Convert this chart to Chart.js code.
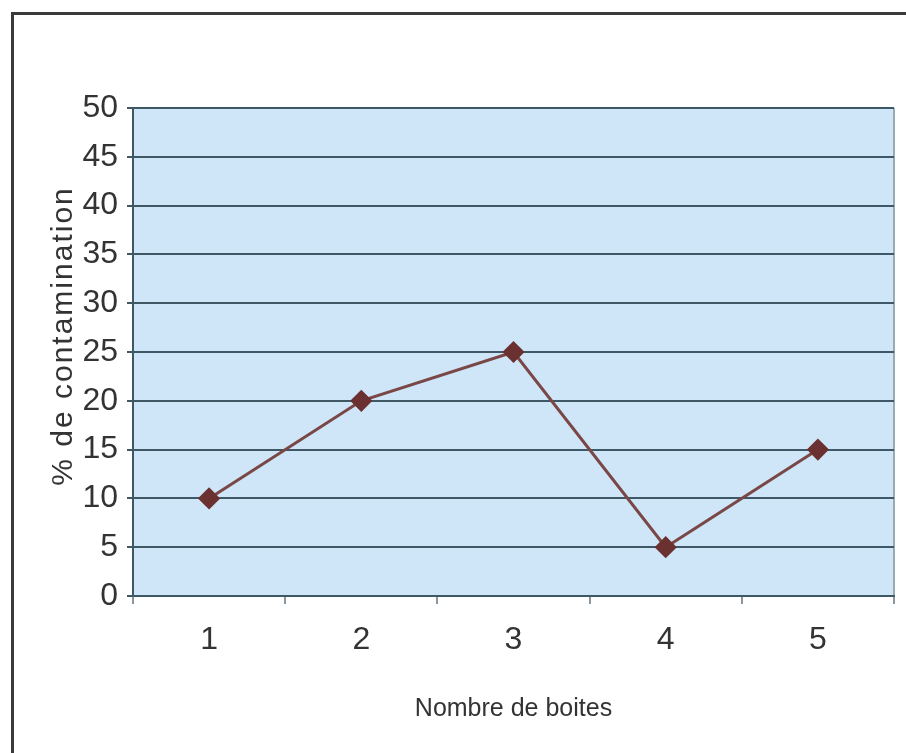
<!DOCTYPE html>
<html>
<head>
<meta charset="utf-8">
<script src="https://cdn.jsdelivr.net/npm/chart.js@4.4.1/dist/chart.umd.min.js"></script>
<style>
  html, body { margin: 0; padding: 0; background: #fff; }
  #wrap { position: relative; width: 906px; height: 753px; overflow: hidden; }
  #frame {
    position: absolute; left: 11px; top: 12px; width: 1000px; height: 1000px;
    border-top: 3px solid #3a3a3a; border-left: 3px solid #3a3a3a;
  }
  #chart { position: absolute; left: 0; top: 0; }
</style>
</head>
<body>
<div id="wrap">
  <div id="frame"></div>
  <canvas id="chart" width="906" height="753"></canvas>
</div>
<script>
const categories = ["1", "2", "3", "4", "5"];
const contamination = [10, 20, 25, 5, 15];
const yTitle = "% de contamination";
const xTitle = "Nombre de boites";

const fontFamily = "'Liberation Sans Narrow', 'Arial Narrow', 'Liberation Sans', Arial, sans-serif";
const gridColor = "#3f5866";

// light blue plot background + thin right edge
const plotBg = {
  id: "plotBg",
  beforeDraw(chart) {
    const { ctx, chartArea: a } = chart;
    ctx.save();
    ctx.fillStyle = "#cee6f7";
    ctx.fillRect(a.left, a.top, a.right - a.left, a.bottom - a.top);
    ctx.strokeStyle = "#9aa9b3";
    ctx.lineWidth = 2;
    ctx.beginPath();
    ctx.moveTo(a.right, a.top);
    ctx.lineTo(a.right, a.bottom + 8);
    ctx.stroke();
    ctx.restore();
  },
};

// rotated y title with spaced letters
const spacedTitle = {
  id: "spacedTitle",
  afterDraw(chart) {
    const { ctx } = chart;
    ctx.save();
    ctx.translate(64, 336);
    ctx.rotate(-Math.PI / 2);
    ctx.font = "30px " + fontFamily;
    ctx.letterSpacing = "2px";
    ctx.fillStyle = "#333";
    ctx.textAlign = "center";
    ctx.textBaseline = "middle";
    ctx.fillText(yTitle, 0, 0);
    ctx.restore();
  },
};

new Chart(document.getElementById("chart"), {
  type: "line",
  data: {
    labels: categories,
    datasets: [
      {
        data: contamination,
        borderColor: "#7a4747",
        borderWidth: 3,
        pointStyle: "rectRot",
        pointRadius: 9,
        pointBackgroundColor: "#6b3131",
        pointBorderColor: "#6b3131",
        tension: 0,
      },
    ],
  },
  options: {
    responsive: false,
    animation: false,
    layout: { padding: { top: 108, right: 10, left: 0, bottom: 0 } },
    plugins: {
      legend: { display: false },
      tooltip: { enabled: false },
    },
    scales: {
      x: {
        offset: true,
        grid: {
          offset: true,
          drawOnChartArea: false,
          tickLength: 8,
          tickColor: "#8a97a0",
          lineWidth: 2,
        },
        border: { display: true, color: gridColor, width: 2 },
        ticks: {
          color: "#333",
          padding: 17,
          font: { family: fontFamily, size: 32 },
        },
        title: {
          display: true,
          text: xTitle,
          color: "#333",
          font: { family: fontFamily, size: 25 },
          padding: { top: 0, bottom: 29 },
        },
        afterFit(scale) {
          scale.height = 157;
        },
      },
      y: {
        min: 0,
        max: 50,
        ticks: {
          stepSize: 5,
          color: "#333",
          padding: 9,
          font: { family: fontFamily, size: 32 },
        },
        grid: {
          color: gridColor,
          lineWidth: 2,
          tickLength: 6,
          tickColor: gridColor,
        },
        border: { display: true, color: gridColor, width: 2 },
        afterFit(scale) {
          scale.width = 133;
        },
      },
    },
  },
  plugins: [plotBg, spacedTitle],
});
</script>
</body>
</html>
